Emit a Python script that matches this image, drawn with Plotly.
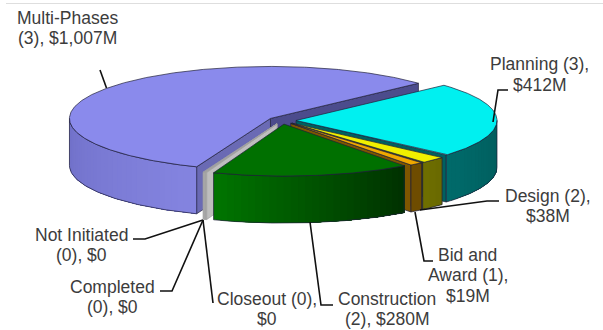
import numpy as np
import plotly.graph_objects as go

# ---- data (clockwise from the start angle) ----
categories = ["Planning", "Design", "Bid and Award", "Construction",
              "Closeout", "Completed", "Not Initiated", "Multi-Phases"]
costs_musd = [412, 38, 19, 280, 0, 0, 0, 1007]
project_counts = [3, 2, 1, 2, 0, 0, 0, 3]
label_lines = [["Planning (3),", "$412M"], ["Design (2),", "$38M"],
               ["Bid and", "Award (1),", "$19M"], ["Construction", "(2), $280M"],
               ["Closeout (0),", "$0"], ["Completed", "(0), $0"],
               ["Not Initiated", "(0), $0"], ["Multi-Phases", "(3), $1,007M"]]

# ---- styles ----
top_colors = ["#00F0F0", "#F0F000", "#F0A800", "#007000", "#D2D2D2", "#D2D2D2", "#D2D2D2", "#8A8AEC"]
side_left = ["#006A6A", "#6E6E00", "#6E4C00", "#007400", "#B0B0B0", "#B0B0B0", "#B0B0B0", "#7070C8"]
side_right = ["#005C5C", "#6A6A00", "#664600", "#003200", "#B0B0B0", "#B0B0B0", "#B0B0B0", "#8484E0"]
face_colors = ["#006060", "#5C5C00", "#7E5600", "#004000", "#BEBEBE", "#BEBEBE", "#BEBEBE", "#4C4C8C"]
end_face_colors = {7: "#6A6AB4"}
edge_colors = {4: "#A0A0A0", 5: "#A0A0A0", 6: "#A0A0A0"}
draw_order = [7, 0, 6, 5, 4, 1, 2, 3]
EDGE = "#20203A"
TEXT = "#3C3C3C"

# ---- projection of the tilted exploded pie ----
CX, CY, RX, RY, DEPTH, EXPLODE = 282, 120.5, 201, 52, 47, 14
START = 42.6
ZERO_SLIVER = 0.35  # degrees a zero-valued slice still occupies

total = sum(costs_musd)
n_zero = sum(1 for v in costs_musd if v == 0)
avail = 360 - n_zero * ZERO_SLIVER
spans = [v / total * avail if v else ZERO_SLIVER for v in costs_musd]

slices = []
cursor = START
for s in spans:
    slices.append((cursor - s, cursor))   # ccw start, ccw end
    cursor -= s

fig = go.Figure()


def poly(xs, ys, fill, line=None, width=0.0):
    fig.add_trace(go.Scatter(
        x=list(xs), y=list(ys), mode="lines", fill="toself", fillcolor=fill,
        line=dict(color=line or fill, width=width), hoverinfo="skip", showlegend=False))


def lerp(c1, c2, t):
    a = [int(c1[i:i + 2], 16) for i in (1, 3, 5)]
    b = [int(c2[i:i + 2], 16) for i in (1, 3, 5)]
    return "#%02X%02X%02X" % tuple(int(round(p + (q - p) * t)) for p, q in zip(a, b))


for i in draw_order:
    a0, a1 = slices[i]
    while a0 < 0:
        a0 += 360
        a1 += 360
    mid = np.radians((a0 + a1) / 2)
    tx = CX + EXPLODE * np.cos(mid)
    ty = CY - EXPLODE * RY / RX * np.sin(mid)
    edge = edge_colors.get(i, EDGE)

    def rim(deg):
        r = np.radians(deg)
        return tx + RX * np.cos(r), ty - RY * np.sin(r)

    # cut faces
    if np.sin(np.radians(a0 - 90)) < 0:
        x, y = rim(a0)
        poly([tx, x, x, tx, tx], [ty, y, y + DEPTH, ty + DEPTH, ty], face_colors[i], edge, 0.7)
    if np.sin(np.radians(a1 + 90)) < 0:
        x, y = rim(a1)
        poly([tx, x, x, tx, tx], [ty, y, y + DEPTH, ty + DEPTH, ty],
             end_face_colors.get(i, face_colors[i]), edge, 0.7)

    # outer side, painted as overlapping gradient bands so no seams show
    s0, s1 = max(a0, 180), min(a1, 360)
    if s1 > s0:
        n = max(1, int((s1 - s0) / 2))
        edges = np.linspace(s0, s1, n + 1)
        for k in range(n):
            d = np.linspace(edges[k], s1, max(4, int((s1 - edges[k]) * 2)))
            px, py = rim(d)
            poly(np.r_[px, px[::-1], px[0]], np.r_[py, py[::-1] + DEPTH, py[0]],
                 lerp(side_left[i], side_right[i], k / max(1, n - 1)))
        d = np.linspace(s0, s1, 80)
        px, py = rim(d)
        fig.add_trace(go.Scatter(
            x=np.r_[px, px[::-1], px[0]], y=np.r_[py, py[::-1] + DEPTH, py[0]], mode="lines",
            line=dict(color=edge, width=0.7), hoverinfo="skip", showlegend=False))

    # top face
    d = np.linspace(a0, a1, max(4, int((a1 - a0) * 2)))
    px, py = rim(d)
    poly(np.r_[tx, px, tx], np.r_[ty, py, ty], top_colors[i], edge, 0.7)

# ---- leader lines ----
leaders = [
    [(508, 90), (498, 90), (493, 122)],
    [(499, 201), (487, 201), (420, 210)],
    [(433, 261), (424, 261), (415, 212)],
    [(333, 305), (321, 305), (310, 222)],
    [(213, 303), (203, 220)],
    [(160, 291), (172, 291), (203, 220)],
    [(133, 239), (145, 239), (203, 220)],
    [(100, 70), (106.5, 88)],
]
for pts in leaders:
    fig.add_trace(go.Scatter(x=[p[0] for p in pts], y=[p[1] for p in pts], mode="lines",
                             line=dict(color="#111111", width=1.6), hoverinfo="skip", showlegend=False))

# top rule of the frame
fig.add_shape(type="line", x0=6, x1=603, y0=3.5, y1=3.5, line=dict(color="#DEDEDE", width=1))

# ---- labels, one annotation per line to hold the reference's line pitch ----
label_pos = [(539.5, 74.5), (547.5, 206), (467.5, 275), (387, 309), (266.5, 309), (112.5, 297), (81.5, 245), (67, 28)]
LINE_PITCH = 20.5
for lines, (x, y) in zip(label_lines, label_pos):
    for j, line in enumerate(lines):
        fig.add_annotation(x=x, y=y + (j - (len(lines) - 1) / 2) * LINE_PITCH, text=line, showarrow=False,
                           xanchor="center", yanchor="middle", align="center",
                           font=dict(family="Liberation Sans, Arial, sans-serif", size=17.5, color=TEXT))

fig.update_layout(
    width=603, height=330, autosize=False, margin=dict(l=0, r=0, t=0, b=0),
    paper_bgcolor="white", plot_bgcolor="white", showlegend=False,
    xaxis=dict(range=[0, 603], visible=False, fixedrange=True),
    yaxis=dict(range=[330, 0], visible=False, fixedrange=True),
)
fig.write_html("out.html", config={"displayModeBar": False},
               post_script="document.body.style.margin='0';document.body.style.overflow='hidden';")
